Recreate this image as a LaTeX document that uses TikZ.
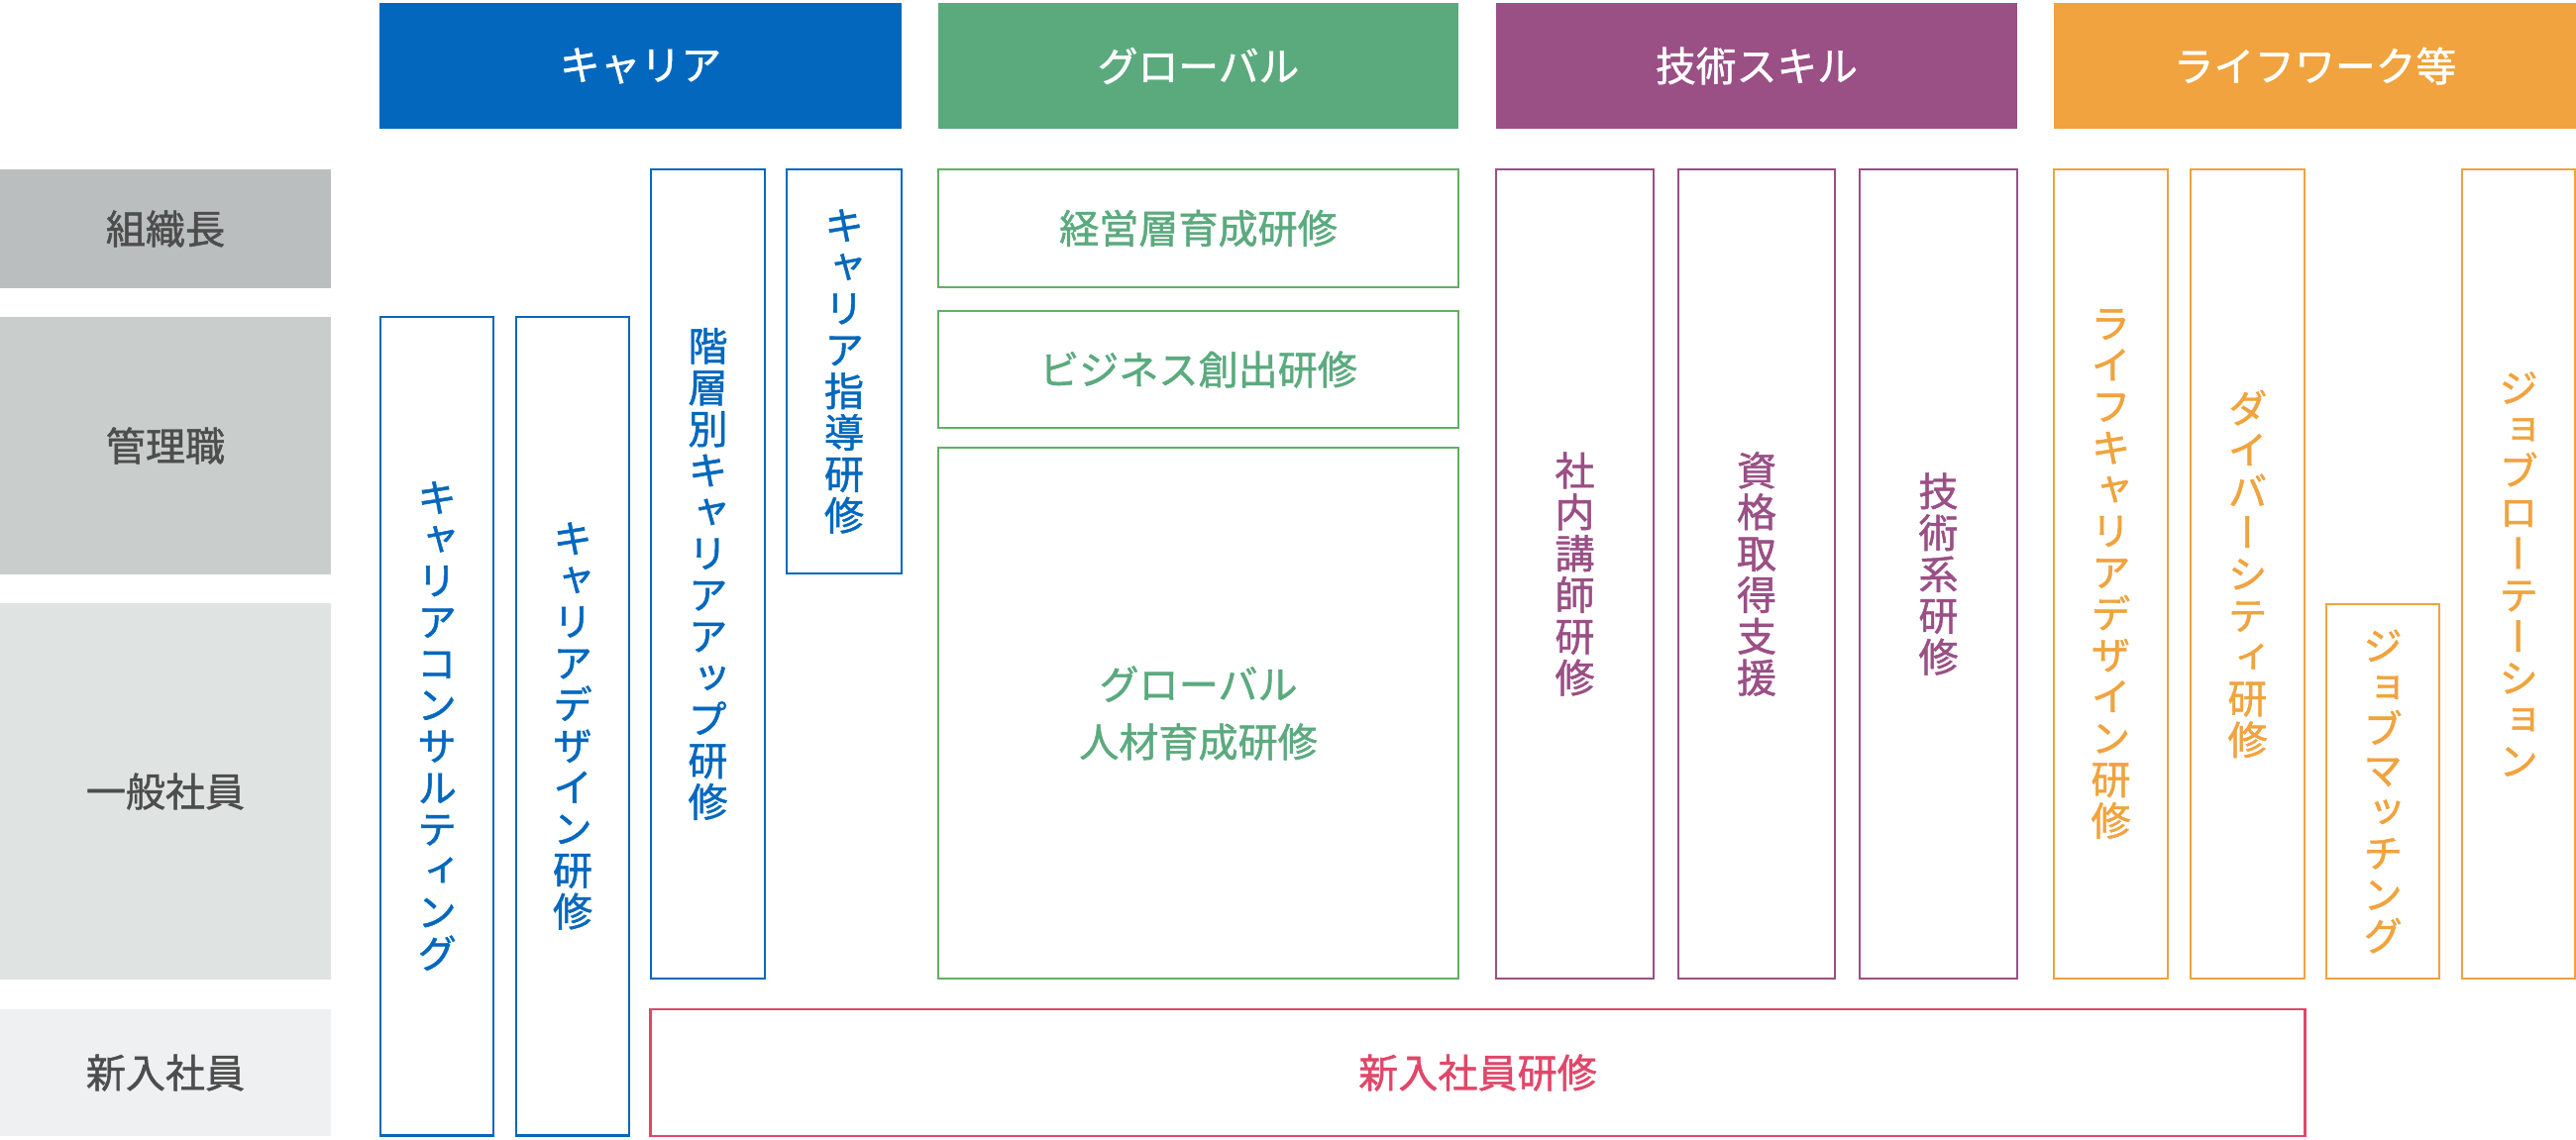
\documentclass[tikz,border=0pt]{standalone}
\usepackage{fontspec}
\setmainfont{Noto Sans CJK JP}
\newfontfamily\jp[BoldFont={Noto Sans CJK JP}, BoldFeatures={FakeBold=1.2}]{Noto Sans CJK JP}
\newfontfamily\jpv[RawFeature=+vert, BoldFont={Noto Sans CJK JP}, BoldFeatures={FakeBold=1.2}]{Noto Sans CJK JP}
\definecolor{cblue}{HTML}{0368BD}
\definecolor{cgreen}{HTML}{5BAA7E}
\definecolor{cgreenline}{HTML}{62B064}
\definecolor{cpurple}{HTML}{9A4F85}
\definecolor{corange}{HTML}{F0A33E}
\definecolor{cred}{HTML}{E0476A}
\definecolor{gA}{HTML}{BBBEBE}
\definecolor{gB}{HTML}{C9CECD}
\definecolor{gC}{HTML}{DFE4E3}
\definecolor{gD}{HTML}{EEF0F1}
\definecolor{ltext}{HTML}{4D4D4D}
\tikzset{
  hdr/.style={inner sep=0pt, outer sep=0pt, text=white, font=\jp\bfseries\fontsize{11.6}{12}\selectfont},
  rowlab/.style={inner sep=0pt, outer sep=0pt, text=ltext, font=\jp\bfseries\fontsize{11.4}{12}\selectfont},
  bx/.style={draw, line width=0.7pt, inner sep=0pt, outer sep=0pt, align=center},
  vtxt/.style={font=\jpv\bfseries\fontsize{11.4}{11.9}\selectfont},
  htxt/.style={font=\jp\bfseries\fontsize{11.4}{16.5}\selectfont},
}
\begin{document}
\begin{tikzpicture}[x=0.01cm, y=-0.01cm]
\useasboundingbox (0,0) rectangle (2600,1150);
% headers
\node[hdr, fill=cblue, minimum width=5.27cm, minimum height=1.27cm] (hcareer) at (646.5,66.5) {キャリア};
\node[hdr, fill=cgreen, minimum width=5.25cm, minimum height=1.27cm] (hglobal) at (1209.5,66.5) {グローバル};
\node[hdr, fill=cpurple, minimum width=5.26cm, minimum height=1.27cm] (htech) at (1773,66.5) {技術スキル};
\node[hdr, fill=corange, minimum width=5.27cm, minimum height=1.27cm] (hlife) at (2336.5,66.5) {ライフワーク等};
% row labels
\node[rowlab, fill=gA, minimum width=3.34cm, minimum height=1.20cm] (r1) at (167,231) {組織長};
\node[rowlab, fill=gB, minimum width=3.34cm, minimum height=2.60cm] (r2) at (167,450) {管理職};
\node[rowlab, fill=gC, minimum width=3.34cm, minimum height=3.80cm] (r3) at (167,799) {一般社員};
\node[rowlab, fill=gD, minimum width=3.34cm, minimum height=1.28cm] (r4) at (167,1083) {新入社員};
% career
\node[bx, vtxt, draw=cblue, text=cblue, minimum width=1.14cm, minimum height=8.26cm] (cc) at (441,733)
  {キ\\ャ\\リ\\ア\\コ\\ン\\サ\\ル\\テ\\ィ\\ン\\グ};
\node[bx, vtxt, draw=cblue, text=cblue, minimum width=1.14cm, minimum height=8.26cm] (cd) at (578,733)
  {キ\\ャ\\リ\\ア\\デ\\ザ\\イ\\ン\\研\\修};
\node[bx, vtxt, draw=cblue, text=cblue, minimum width=1.15cm, minimum height=8.17cm] (kaiso) at (714.5,579.5)
  {階\\層\\別\\キ\\ャ\\リ\\ア\\ア\\ッ\\プ\\研\\修};
\node[bx, vtxt, draw=cblue, text=cblue, minimum width=1.16cm, minimum height=4.08cm] (shido) at (852,375)
  {キ\\ャ\\リ\\ア\\指\\導\\研\\修};
% global
\node[bx, htxt, draw=cgreenline, text=cgreen, minimum width=5.25cm, minimum height=1.19cm] (keiei) at (1209.5,230.5) {経営層育成研修};
\node[bx, htxt, draw=cgreenline, text=cgreen, minimum width=5.25cm, minimum height=1.18cm] (biz) at (1209.5,373) {ビジネス創出研修};
\node[bx, htxt, draw=cgreenline, text=cgreen, minimum width=5.25cm, minimum height=5.36cm] (glob) at (1209.5,720) {グローバル\\人材育成研修};
% tech
\node[bx, vtxt, draw=cpurple, text=cpurple, minimum width=1.59cm, minimum height=8.17cm] (naibu) at (1589.5,579.5)
  {社\\内\\講\\師\\研\\修};
\node[bx, vtxt, draw=cpurple, text=cpurple, minimum width=1.58cm, minimum height=8.17cm] (shikaku) at (1773,579.5)
  {資\\格\\取\\得\\支\\援};
\node[bx, vtxt, draw=cpurple, text=cpurple, minimum width=1.59cm, minimum height=8.17cm] (gijutsu) at (1956.5,579.5)
  {技\\術\\系\\研\\修};
% life
\node[bx, vtxt, draw=corange, text=corange, minimum width=1.15cm, minimum height=8.17cm] (lcd) at (2130.5,579.5)
  {ラ\\イ\\フ\\キ\\ャ\\リ\\ア\\デ\\ザ\\イ\\ン\\研\\修};
\node[bx, vtxt, draw=corange, text=corange, minimum width=1.15cm, minimum height=8.17cm] (div) at (2268.5,579.5)
  {ダ\\イ\\バ\\ー\\シ\\テ\\ィ\\研\\修};
\node[bx, vtxt, draw=corange, text=corange, minimum width=1.14cm, minimum height=3.78cm] (jm) at (2405,799)
  {ジ\\ョ\\ブ\\マ\\ッ\\チ\\ン\\グ};
\node[bx, vtxt, draw=corange, text=corange, minimum width=1.14cm, minimum height=8.17cm] (jr) at (2542,579.5)
  {ジ\\ョ\\ブ\\ロ\\ー\\テ\\ー\\シ\\ョ\\ン};
% new employees
\node[bx, htxt, draw=cred, text=cred, minimum width=16.69cm, minimum height=1.28cm] (shinnyu) at (1491.5,1083) {新入社員研修};
\end{tikzpicture}
\end{document}
